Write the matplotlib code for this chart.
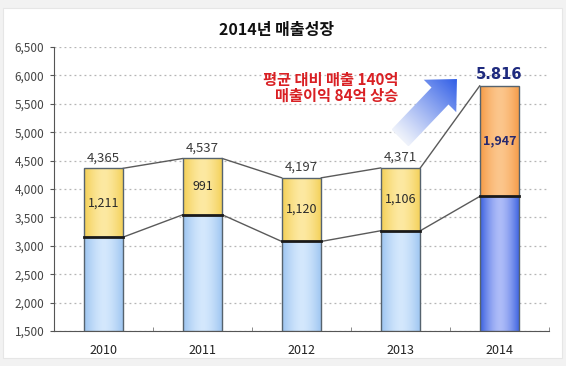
import numpy as np
import matplotlib
matplotlib.use("Agg")
import matplotlib.pyplot as plt
from matplotlib.patches import Polygon, Rectangle
from matplotlib.colors import to_rgb

plt.rcParams['font.family'] = ['Noto Sans CJK KR', 'DejaVu Sans']

# ---- data ----
years = ["2010", "2011", "2012", "2013", "2014"]
totals = [4365, 4537, 4197, 4371, 5816]
profit = [1211, 991, 1120, 1106, 1947]
base = [t - p for t, p in zip(totals, profit)]
total_labels = ["4,365", "4,537", "4,197", "4,371", "5.816"]
profit_labels = ["1,211", "991", "1,120", "1,106", "1,947"]
yticks = [1500, 2000, 2500, 3000, 3500, 4000, 4500, 5000, 5500, 6000, 6500]
title = "2014년 매출성장"
note_lines = ["평균 대비 매출 140억", "매출이익 84억 상승"]

W, H = 566, 366
fig = plt.figure(figsize=(W / 100, H / 100), dpi=100)
fig.patch.set_facecolor('#f2f2f2')

# background panel (pixel overlay)
bg = fig.add_axes([0, 0, 1, 1], zorder=-5)
bg.set_xlim(0, W); bg.set_ylim(H, 0); bg.axis('off')
bg.add_patch(Rectangle((3, 8), 559, 350, facecolor='white', edgecolor='#e6e6e6', lw=0.8))

ax = fig.add_axes([54 / W, (H - 331) / H, 495 / W, 284 / H])
ax.set_facecolor('none')
x = np.arange(len(years))
bw = 0.40

ax.set_xlim(-0.5, len(years) - 0.5)
ax.set_ylim(1500, 6500)

def hgrad(edge, center, n=64, p=1.6):
    t = np.linspace(0, 1, n)
    k = np.abs(2 * t - 1) ** p
    e = np.array(to_rgb(edge)); c = np.array(to_rgb(center))
    cols = c[None, :] * (1 - k[:, None]) + e[None, :] * k[:, None]
    return cols[None, :, :]

def fill_gradient(patch, edge, center):
    x0, y0 = patch.get_x(), patch.get_y()
    w, h = patch.get_width(), patch.get_height()
    im = ax.imshow(hgrad(edge, center), extent=[x0, x0 + w, y0, y0 + h],
                   aspect='auto', zorder=patch.get_zorder() + 0.1, interpolation='bicubic')
    im.set_clip_path(patch)

base_cols = [('#9cc4f0', '#d4e8fd')] * 4 + [('#3a60e0', '#aebcf8')]
top_cols = [('#f3cf55', '#fde9a2')] * 4 + [('#f59a45', '#fcc68c')]

bars_base = ax.bar(x, [b - 1500 for b in base], bottom=1500, width=bw,
                   facecolor='#c0dcf8', edgecolor='none', zorder=3)
bars_top = ax.bar(x, profit, bottom=base, width=bw,
                  facecolor='#fbd970', edgecolor='none', zorder=3)
for i, (pb, pt) in enumerate(zip(bars_base, bars_top)):
    fill_gradient(pb, *base_cols[i])
    fill_gradient(pt, *top_cols[i])
    ax.bar(x[i], totals[i] - 1500, bottom=1500, width=bw, facecolor='none',
           edgecolor='#56636e', lw=1.0, zorder=5)
    ax.plot([x[i] - bw / 2, x[i] + bw / 2], [base[i], base[i]], color='#1a1a1a', lw=2.0, zorder=6)

# connecting lines
for i in range(len(years) - 1):
    ax.plot([x[i] + bw / 2, x[i + 1] - bw / 2], [totals[i], totals[i + 1]], color='#5a5a5a', lw=1.0, zorder=4)
    ax.plot([x[i] + bw / 2, x[i + 1] - bw / 2], [base[i], base[i + 1]], color='#5a5a5a', lw=1.0, zorder=4)

# labels
for i in range(len(years)):
    if i == len(years) - 1:
        ax.text(x[i], totals[i] + 70, total_labels[i], ha='center', va='bottom',
                fontsize=10.5, fontweight='bold', color='#1e2a7e', family=['DejaVu Sans'], zorder=7)
        ax.text(x[i], base[i] + profit[i] / 2, profit_labels[i], ha='center', va='center',
                fontsize=9, fontweight='bold', color='#26286e', zorder=7)
    else:
        ax.text(x[i], totals[i] + 70, total_labels[i], ha='center', va='bottom',
                fontsize=9.5, color='#3a3a3a', zorder=7)
        ax.text(x[i], base[i] + profit[i] / 2, profit_labels[i], ha='center', va='center',
                fontsize=9, color='#2a2a2a', zorder=7)

# axes styling
ax.set_yticks(yticks)
ax.set_yticklabels([f"{v:,}" for v in yticks], fontsize=8.5, color='#444444')
ax.set_xticks(x)
ax.set_xticklabels(years, fontsize=9, color='#222222')
ax.tick_params(axis='x', length=0, pad=9)
ax.set_xticks(np.arange(len(years)) + 0.5, minor=True)
ax.tick_params(axis='x', which='minor', direction='in', length=3, color='#777777')
ax.tick_params(axis='y', length=3, color='#555555', pad=4)
for s in ['top', 'right']:
    ax.spines[s].set_visible(False)
ax.spines['left'].set_color('#555555')
ax.spines['bottom'].set_color('#555555')
ax.yaxis.grid(True, linestyle=(0, (1.5, 2.5)), color='#b5b5b5', lw=0.9, zorder=0)
ax.set_axisbelow(True)

# overlay for title, note and arrow (pixel coordinates)
ov = fig.add_axes([0, 0, 1, 1], zorder=10)
ov.set_xlim(0, W); ov.set_ylim(H, 0); ov.axis('off'); ov.set_facecolor('none')
ov.text(277, 30, title, ha='center', va='center', fontsize=11.5, fontweight='bold', color='#111111')
ov.text(398, 80, note_lines[0], ha='right', va='center', fontsize=11, fontweight='bold', color='#d92024')
ov.text(398, 96, note_lines[1], ha='right', va='center', fontsize=11, fontweight='bold', color='#d92024')

# gradient arrow
d = np.array([1.0, -1.0]) / np.sqrt(2)
nrm = np.array([1.0, 1.0]) / np.sqrt(2)
T = np.array([400.0, 138.0])
B = np.array([440.0, 96.0])
w, Wh, hl = 12.0, 23.0, 24.0
tip = B + hl * d
pts = [T + w * nrm, B + w * nrm, B + Wh * nrm, tip, B - Wh * nrm, B - w * nrm, T - w * nrm]
poly = Polygon(pts, closed=True, facecolor='none', edgecolor='none')
ov.add_patch(poly)
xs = np.array([p[0] for p in pts]); ys = np.array([p[1] for p in pts])
x0, x1, y0, y1 = xs.min(), xs.max(), ys.min(), ys.max()
gx, gy = np.meshgrid(np.linspace(x0, x1, 160), np.linspace(y0, y1, 160))
proj = ((gx - T[0]) * d[0] + (gy - T[1]) * d[1]) / np.dot(tip - T, d)
proj = np.clip(proj, 0, 1)
c_lo = np.array(to_rgb('#eef2fb')); c_hi = np.array(to_rgb('#2d5be6'))
k = proj ** 1.1
img = c_lo[None, None, :] * (1 - k[..., None]) + c_hi[None, None, :] * k[..., None]
im = ov.imshow(img, extent=[x0, x1, y1, y0], origin='upper', aspect='auto', zorder=2)
im.set_clip_path(poly)
ov.set_xlim(0, W); ov.set_ylim(H, 0)

fig.savefig('out.png', dpi=100, facecolor=fig.get_facecolor())
